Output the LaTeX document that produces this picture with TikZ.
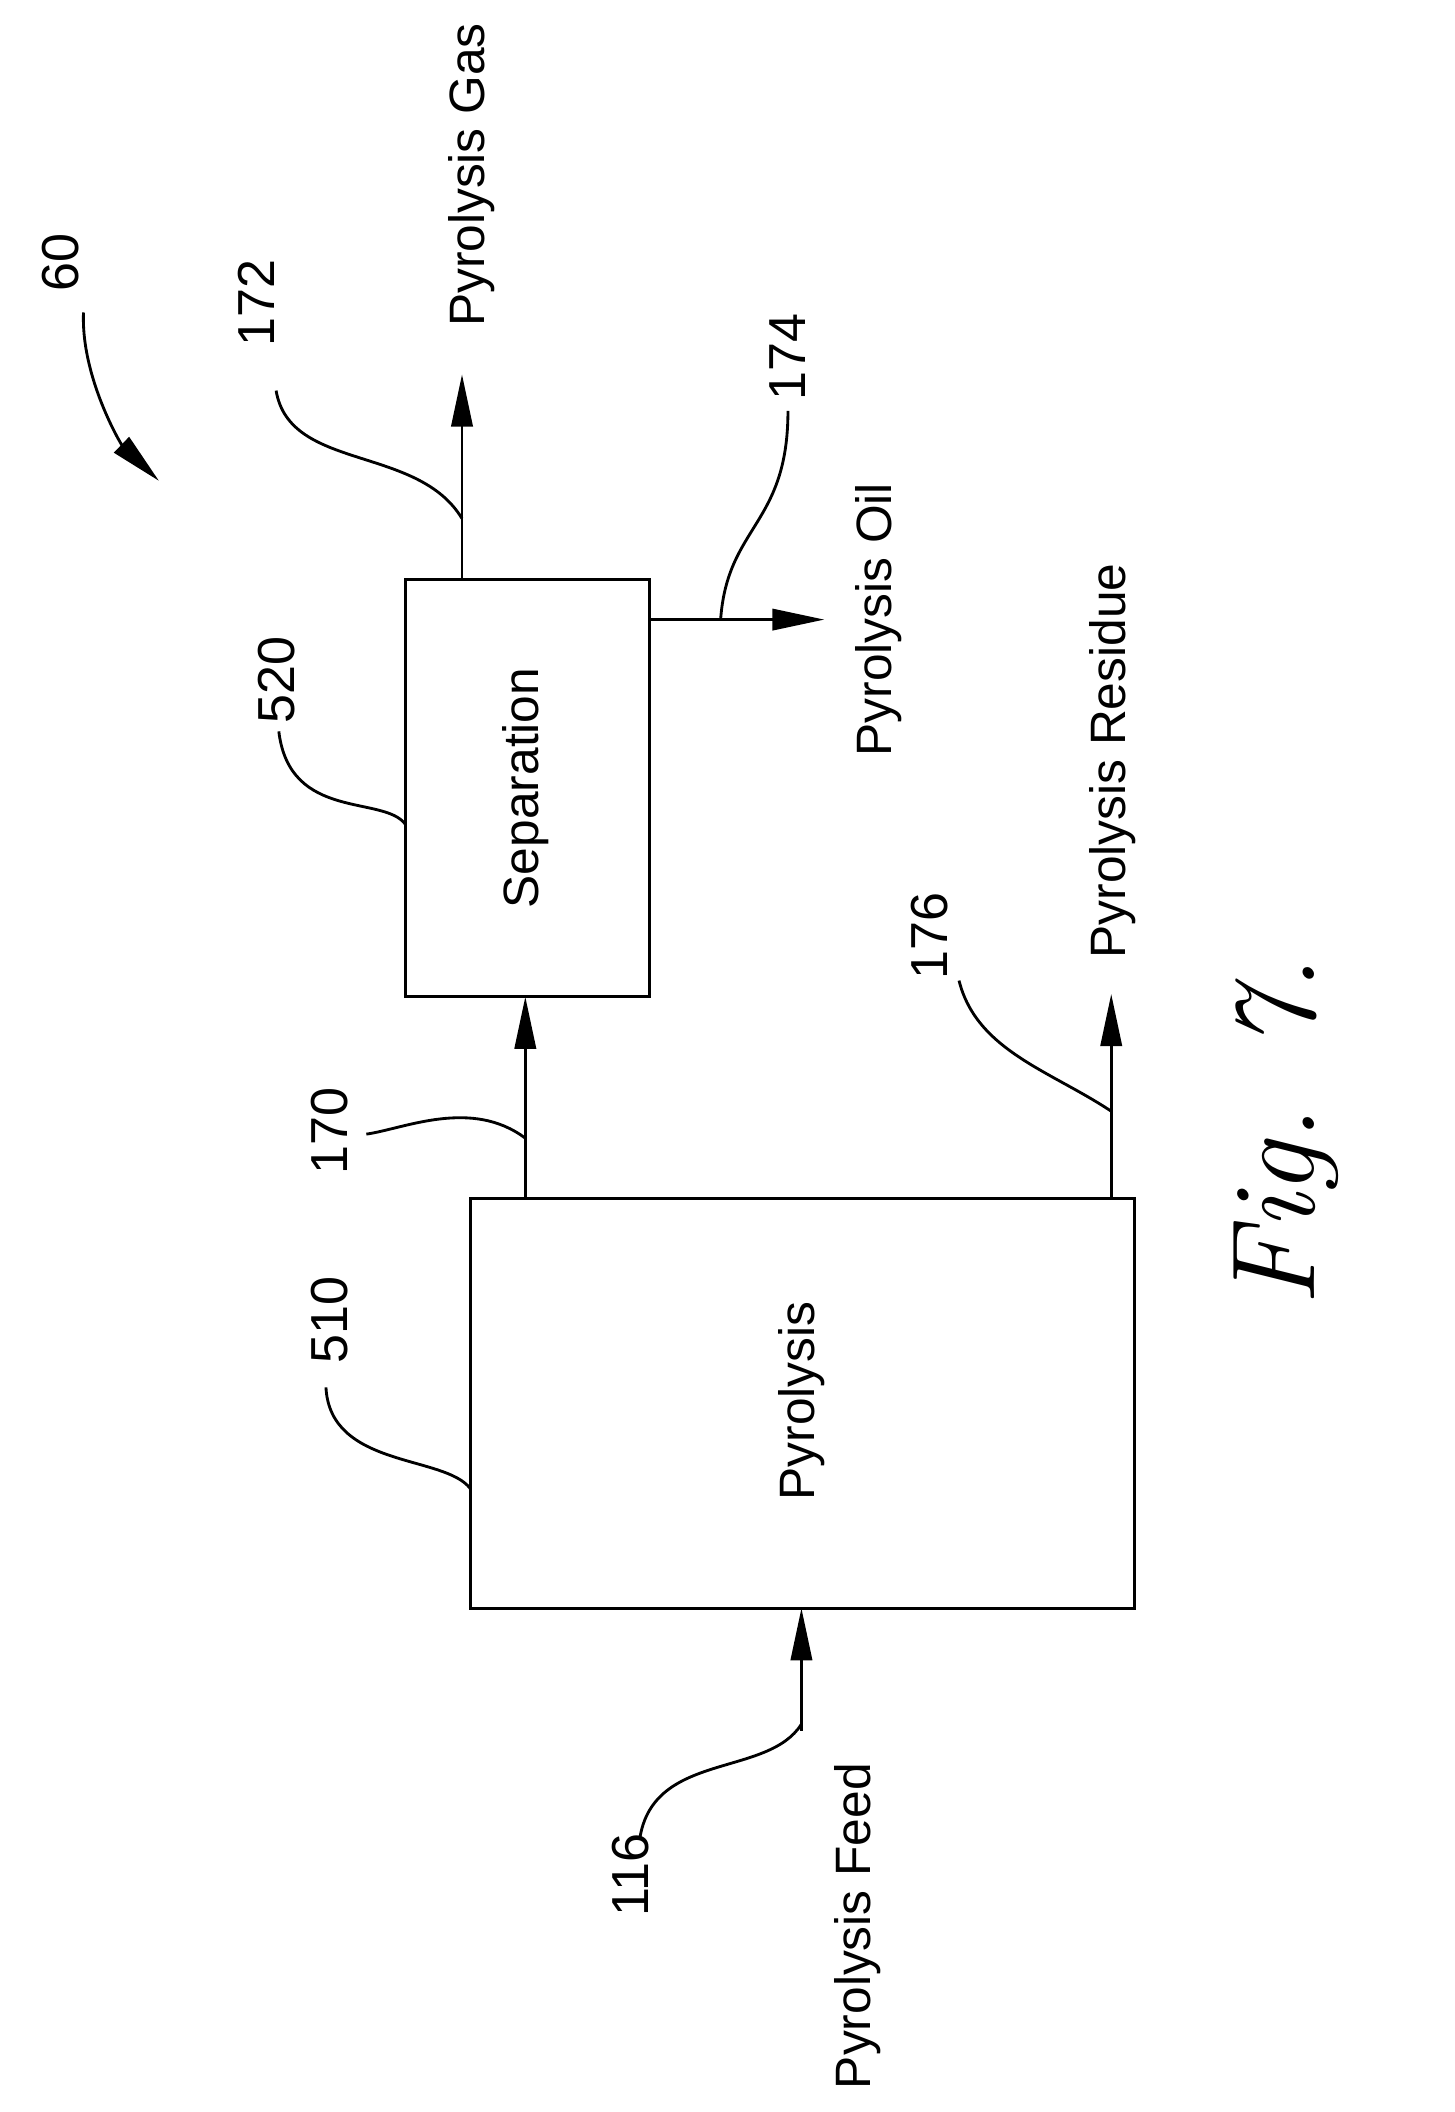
\documentclass[tikz,border=0pt]{standalone}
\usepackage{fontspec}
\setmainfont{Liberation Sans}
\newfontfamily\figfont{Latin Modern Roman}
\usetikzlibrary{arrows.meta}
\begin{document}
\begin{tikzpicture}[x=0.02cm,y=-0.02cm,
 box/.style={draw,line width=1.2pt},
 flow/.style={line width=1.2pt,-{Triangle[length=22pt,width=9pt]}},
 lead/.style={line width=1.2pt},
 txt/.style={rotate=90,font=\fontsize{21}{24}\selectfont},
 num/.style={rotate=90,font=\fontsize{22}{24}\selectfont}]
\useasboundingbox (0,0) rectangle (1080,1568);
\draw[box] (349,890) rectangle (842,1194);
\coordinate (pt) at (390,890); \coordinate (pr) at (825,890); \coordinate (pb) at (595,1194);
\node[txt] (pyrl) at (595,1040) {Pyrolysis};
\draw[box] (301,430) rectangle (482,740);
\coordinate (sb) at (390,740); \coordinate (st) at (343,430); \coordinate (sr) at (482,460);
\node[txt] (sepl) at (390,585) {Separation};
\coordinate (gasend) at (343,278); \coordinate (oilend) at (612,460); \coordinate (resend) at (825,738); \coordinate (feedst) at (595,1285);
\draw[flow] (pt) -- (sb);
\draw[flow] (pr) -- (resend);
\draw[flow] (st) -- (gasend);
\draw[flow] (sr) -- (oilend);
\draw[flow] (feedst) -- (pb);
\node[txt] (gas) at (350,130) {Pyrolysis Gas};
\node[txt] (oil) at (652,460) {Pyrolysis Oil};
\node[txt] (res) at (826,565) {Pyrolysis Residue};
\node[txt] (feed) at (637,1430) {Pyrolysis Feed};
\node[num] (n170) at (245,840) {170};
\node[num] (n176) at (690,695) {176};
\node[num] (n172) at (190,225) {172};
\node[num] (n174) at (585,265) {174};
\node[num] (n116) at (468,1392) {116};
\node[num] (n510) at (245,980) {510};
\node[num] (n520) at (205,505) {520};
\node[num] (n60) at (45,195) {60};
\node[rotate=90,font=\fontsize{50}{50}\selectfont\figfont\itshape] (fig) at (955,840) {Fig. 7.};
\draw[lead] (272,842) .. controls (300,838) and (350,815) .. (390,845);
\draw[lead] (712,728) .. controls (725,780) and (780,795) .. (825,825);
\draw[lead] (205,290) .. controls (215,350) and (310,330) .. (343,385);
\draw[lead] (585,305) .. controls (585,390) and (540,390) .. (535,460);
\draw[lead] (475,1365) .. controls (485,1300) and (570,1320) .. (595,1280);
\draw[lead] (242,1030) .. controls (245,1090) and (330,1080) .. (349,1105);
\draw[lead] (207,543) .. controls (215,610) and (285,590) .. (301,612);
\draw[lead,-{Triangle[length=22pt,width=9pt]}] (62,232) .. controls (60,280) and (90,330) .. (118,357);
\end{tikzpicture}
\end{document}
